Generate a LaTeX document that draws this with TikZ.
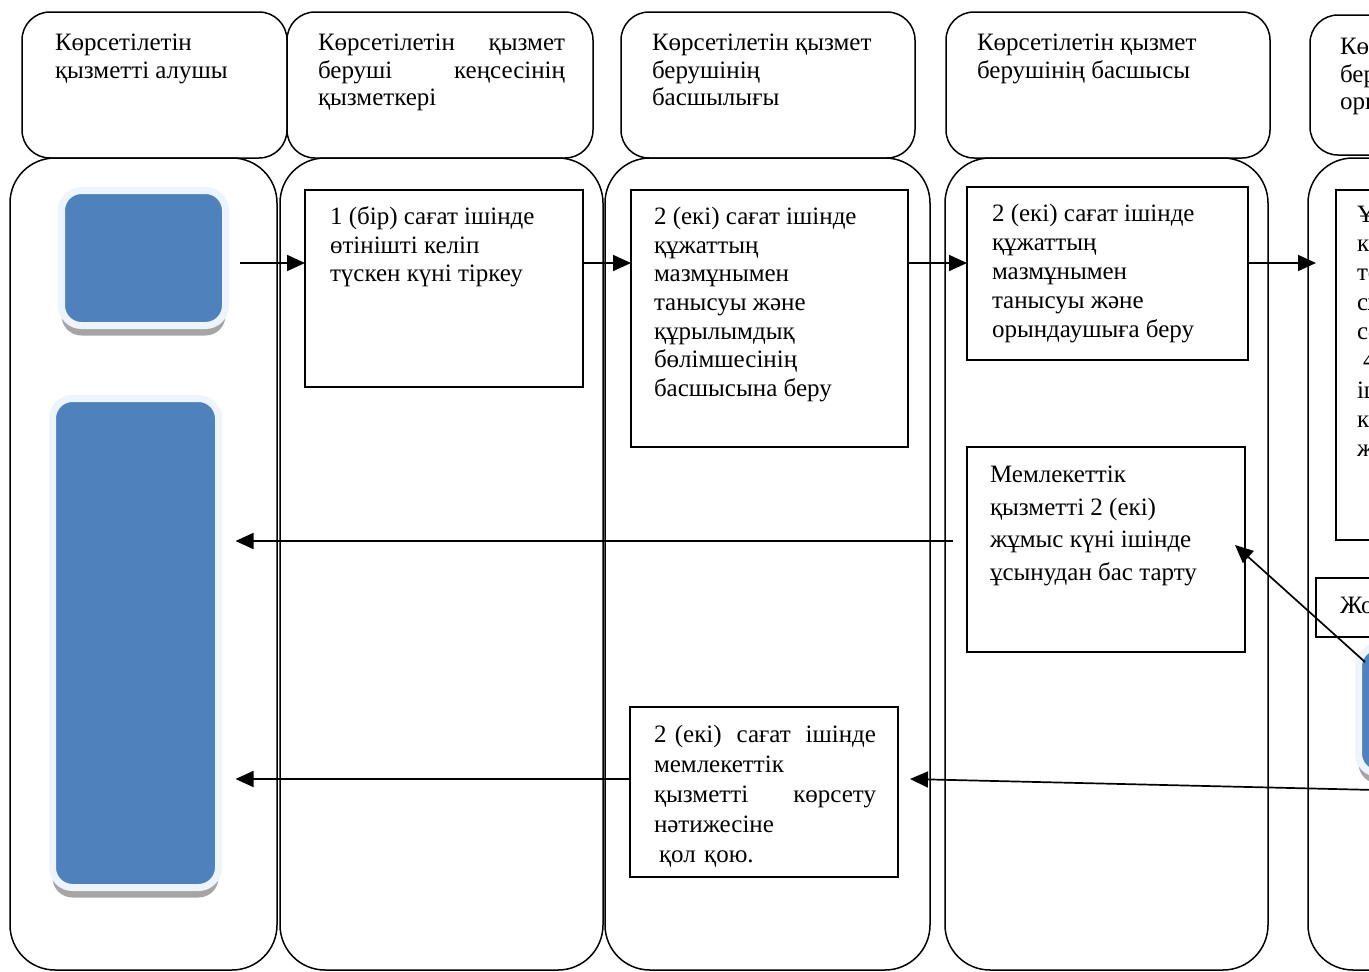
\documentclass[tikz,border=0pt]{standalone}
\usepackage{fontspec}
\setmainfont{Liberation Serif}
\usetikzlibrary{arrows.meta,calc,shadows}
\definecolor{bluefill}{RGB}{79,129,189}
\definecolor{halo}{RGB}{238,244,251}
\definecolor{shade}{RGB}{165,165,165}
\tikzset{
  lane/.style={draw, line width=1.5pt, rounded corners=45pt, inner sep=0pt, outer sep=0pt},
  head/.style={draw, line width=1.5pt, rounded corners=28pt, inner sep=0pt, outer sep=0pt},
  stepbox/.style={draw, line width=1.5pt, inner sep=0pt, outer sep=0pt, anchor=north west},
  bluebox/.style={fill=bluefill, draw=halo, line width=7pt, rounded corners=20pt, inner sep=0pt, outer sep=0pt,
    drop shadow={shadow xshift=0pt, shadow yshift=-10pt, fill=shade, opacity=1}},
  txt/.style={anchor=north west, inner sep=0pt, outer sep=0pt, align=left, font=\fontsize{25}{29}\selectfont},
  htxt/.style={txt, font=\fontsize{25}{27.5}\selectfont},
  arr/.style={line width=1.7pt, -{Triangle[length=18pt,width=16pt]}}
}
\begin{document}
\begin{tikzpicture}[x=1pt,y=-1pt]
\useasboundingbox (0,0) rectangle (1369,972);
\begin{scope}
\clip (0,0) rectangle (1369,972);
\fill[white] (0,0) rectangle (1369,972);
% lanes
\node[lane, minimum width=267pt, minimum height=812pt] (L1) at (143.5,564) {};
\node[lane, minimum width=323pt, minimum height=812pt] (L2) at (441.5,564) {};
\node[lane, minimum width=325pt, minimum height=812pt] (L3) at (767.5,564) {};
\node[lane, minimum width=323pt, minimum height=812pt] (L4) at (1106.5,564) {};
\node[lane, minimum width=332pt, minimum height=812pt] (L5) at (1474,564) {};
% headers
\node[head, minimum width=265pt, minimum height=146pt] (H1) at (154.5,85) {};
\node[head, minimum width=306pt, minimum height=146pt] (H2) at (440,85) {};
\node[head, minimum width=294pt, minimum height=146pt] (H3) at (768,85) {};
\node[head, minimum width=324pt, minimum height=146pt] (H4) at (1108,85) {};
\node[head, minimum width=330pt, minimum height=140pt] (H5) at (1475,85) {};
\node[htxt] (H1t) at (55,34) {Көрсетілетін\\қызметті алушы};
\node[htxt, text width=247pt] (H2t) at (318,34) {Көрсетілетін\hfill қызмет\\беруші\hfill кеңсесінің\\қызметкері};
\node[htxt] (H3t) at (652,34) {Көрсетілетін қызмет\\берушінің\\басшылығы};
\node[htxt] (H4t) at (977,34) {Көрсетілетін қызмет\\берушінің басшысы};
\node[htxt] (H5t) at (1340,38) {Көрсетілетін қызмет\\берушінің\\орындаушысы};
% blue boxes
\node[bluebox, minimum width=164pt, minimum height=135pt] (blue1) at (143.5,258) {};
\node[bluebox, minimum width=166pt, minimum height=489pt] (blue2) at (135.5,643) {};
\node[bluebox, minimum width=160pt, minimum height=127pt] (blue3) at (1438.5,710) {};
% step boxes
\node[stepbox, minimum width=278pt, minimum height=197pt] (A) at (305,190) {};
\node[stepbox, minimum width=277pt, minimum height=257pt] (B) at (631,190) {};
\node[stepbox, minimum width=281pt, minimum height=173pt] (C) at (967,187) {};
\node[stepbox, minimum width=278pt, minimum height=205pt] (D) at (967,447) {};
\node[stepbox, minimum width=268pt, minimum height=170pt] (E) at (630,707) {};
\node[stepbox, minimum width=300pt, minimum height=350pt] (F) at (1336,190) {};
\node[stepbox, minimum width=300pt, minimum height=59pt] (G) at (1316,578) {};
% texts
\node[txt, font=\fontsize{25}{28.5}\selectfont] (At) at (330,207) {1 (бір) сағат ішінде\\өтінішті келіп\\түскен күні тіркеу};
\node[txt, font=\fontsize{25}{28.7}\selectfont] (Bt) at (654,207) {2 (екі) сағат ішінде\\құжаттың\\мазмұнымен\\танысуы және\\құрылымдық\\бөлімшесінің\\басшысына беру};
\node[txt] (Ct) at (992,204) {2 (екі) сағат ішінде\\құжаттың\\мазмұнымен\\танысуы және\\орындаушыға беру};
\node[txt, font=\fontsize{25}{32.7}\selectfont] (Dt) at (990,466) {Мемлекеттік\\қызметті 2 (екі)\\жұмыс күні ішінде\\ұсынудан бас тарту};
\node[txt, text width=222pt, font=\fontsize{25}{30}\selectfont] (Et) at (654,725) {2 (екі)\hfill сағат\hfill ішінде\\мемлекеттік\\қызметті\hfill көрсету\\нәтижесіне\\\hspace*{5pt}қол қою.};
\node[txt, font=\fontsize{25}{29.3}\selectfont] (Ft) at (1357,206) {Ұсынылған\\келген\\тексеріп,\\сұранысқа\\сәйкес\\\hspace*{6pt}4 (төрт)\\ішінде\\көрсету\\жасау};
\node[txt] (Gt) at (1340,597) {Жоқ};
% connectors
\coordinate (row1) at (0,263);
\coordinate (row2) at (0,541);
\coordinate (row3) at (0,779);
\coordinate (src) at (1460,792);
\draw[arr] ($(blue1.east|-row1)+(14,0)$) -- (A.west|-row1);
\draw[arr] (A.east|-row1) -- (B.west|-row1);
\draw[arr] (B.east|-row1) -- (C.west|-row1);
\draw[arr] (C.east|-row1) -- ($(F.west|-row1)+(-20,0)$);
\draw[arr] ($(D.west|-row2)+(-14,0)$) -- ($(blue2.east|-row2)+(17,0)$);
\draw[arr] (E.west|-row3) -- ($(blue2.east|-row3)+(17,0)$);
\draw[arr] (src) -- ($(E.east|-row3)+(12,0)$);
\draw[arr] ($(blue3.north west)+(6.5,15.5)$) -- ($(D.east)+(-10,-4.5)$);
\end{scope}
\end{tikzpicture}
\end{document}
